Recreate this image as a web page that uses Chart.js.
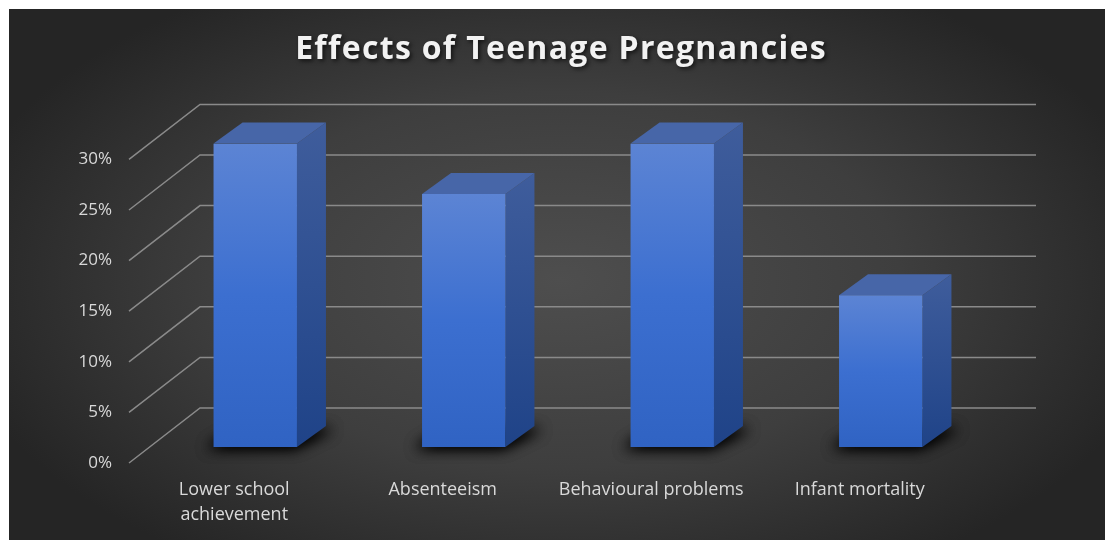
<!DOCTYPE html>
<html>
<head>
<meta charset="utf-8">
<title>Effects of Teenage Pregnancies</title>
<script src="https://cdn.jsdelivr.net/npm/chart.js@4.4.1/dist/chart.umd.min.js"></script>
<style>
  html, body { margin: 0; padding: 0; background: #fff; }
  #wrap { width: 1105px; height: 540px; }
</style>
</head>
<body>
<div id="wrap"><canvas id="effectsChart" width="1105" height="540"></canvas></div>
<script>
const categories = [["Lower school", "achievement"], "Absenteeism", "Behavioural problems", "Infant mortality"];
const percentages = [30, 25, 30, 15];
const yTicks = [0, 5, 10, 15, 20, 25, 30];

// fake 3d: bar depth and floor/wall depth in px
const BAR_DX = 29, BAR_DY = 21;
const WALL_LEFT = 129, WALL_BACK = 200, WALL_RIGHT = 1036;
const BACK_SHIFT = -39, FRONT_SHIFT = 16;
const TITLE_SHIFT = 64;
const OFFSCREEN = 3000;

const backdrop = {
  id: 'backdrop',
  beforeDraw(chart) {
    const { ctx, width, height } = chart;
    ctx.save();
    ctx.fillStyle = '#ffffff';
    ctx.fillRect(0, 0, width, height);
    ctx.beginPath();
    ctx.rect(9, 9, width - 9, height - 9);
    ctx.clip();
    // elliptical radial glow in the middle
    ctx.translate(560, 280);
    ctx.scale(1, 0.55);
    const g = ctx.createRadialGradient(0, 0, 0, 0, 0, 620);
    g.addColorStop(0, '#4e4e4e');
    g.addColorStop(0.55, '#3e3e3e');
    g.addColorStop(1, '#252525');
    ctx.fillStyle = g;
    ctx.fillRect(-600, -600, 1200, 1200);
    ctx.restore();

    // spaced-out, shadowed title
    const tb = chart.titleBlock;
    if (tb && !tb._spaced) {
      const orig = tb.draw.bind(tb);
      tb.draw = function () {
        const c = this.ctx;
        c.save();
        c.translate(TITLE_SHIFT, 0);
        c.letterSpacing = '1.3px';
        c.shadowColor = 'rgba(0,0,0,0.65)';
        c.shadowOffsetX = 2;
        c.shadowOffsetY = 2;
        c.shadowBlur = 4;
        orig();
        c.restore();
      };
      tb._spaced = true;
    }
  }
};

const walls = {
  id: 'walls',
  beforeDatasetsDraw(chart) {
    const { ctx } = chart;
    const y = chart.scales.y;
    ctx.save();
    ctx.strokeStyle = '#8a8a8a';
    ctx.lineWidth = 1.5;
    yTicks.forEach(v => {
      const py = y.getPixelForValue(v);
      ctx.beginPath();
      ctx.moveTo(WALL_LEFT, py + FRONT_SHIFT);
      ctx.lineTo(WALL_BACK, py + BACK_SHIFT);
      ctx.lineTo(WALL_RIGHT, py + BACK_SHIFT);
      ctx.stroke();
    });
    ctx.restore();

    const meta = chart.getDatasetMeta(0);
    meta.data.forEach(el => {
      const { x, y: top, base, width } = el.getProps(['x', 'y', 'base', 'width'], true);
      const x0 = x - width / 2, x1 = x + width / 2;

      // soft floor shadow: shape is drawn off canvas, only its blur lands here
      ctx.save();
      ctx.shadowColor = 'rgba(0,0,0,0.95)';
      ctx.shadowBlur = 14;
      ctx.shadowOffsetX = OFFSCREEN - 5;
      ctx.shadowOffsetY = 1;
      ctx.fillStyle = '#000';
      for (let i = 0; i < 2; i++) {
        ctx.beginPath();
        ctx.moveTo(x0 - 2 - OFFSCREEN, base);
        ctx.lineTo(x1 + 2 - OFFSCREEN, base);
        ctx.lineTo(x1 + BAR_DX + 12 - OFFSCREEN, base - BAR_DY + 2);
        ctx.lineTo(x0 + BAR_DX - OFFSCREEN, base - BAR_DY + 2);
        ctx.closePath();
        ctx.fill();
      }
      ctx.restore();

      // right side
      ctx.save();
      const sg = ctx.createLinearGradient(0, top - BAR_DY, 0, base);
      sg.addColorStop(0, '#3f5d9c');
      sg.addColorStop(1, '#1f4388');
      ctx.fillStyle = sg;
      ctx.beginPath();
      ctx.moveTo(x1, top);
      ctx.lineTo(x1 + BAR_DX, top - BAR_DY);
      ctx.lineTo(x1 + BAR_DX, base - BAR_DY);
      ctx.lineTo(x1, base);
      ctx.closePath();
      ctx.fill();

      // top
      ctx.fillStyle = '#4766a8';
      ctx.beginPath();
      ctx.moveTo(x0, top);
      ctx.lineTo(x0 + BAR_DX, top - BAR_DY);
      ctx.lineTo(x1 + BAR_DX, top - BAR_DY);
      ctx.lineTo(x1, top);
      ctx.closePath();
      ctx.fill();
      ctx.restore();
    });
  }
};

function frontFill(context) {
  const chart = context.chart;
  if (!chart.chartArea) return '#3d6fcf';
  const y = chart.scales.y;
  const top = y.getPixelForValue(percentages[context.dataIndex]);
  const base = y.getPixelForValue(0);
  const g = chart.ctx.createLinearGradient(0, top, 0, base);
  g.addColorStop(0, '#5c84d4');
  g.addColorStop(0.5, '#3c6fd0');
  g.addColorStop(1, '#3063c3');
  return g;
}

new Chart(document.getElementById('effectsChart'), {
  type: 'bar',
  data: {
    labels: categories,
    datasets: [{
      data: percentages,
      backgroundColor: frontFill,
      borderWidth: 0,
      barPercentage: 0.4,
      categoryPercentage: 1
    }]
  },
  options: {
    responsive: false,
    animation: false,
    layout: { padding: { left: 9, right: 120, top: 9, bottom: 0 } },
    plugins: {
      legend: { display: false },
      tooltip: { enabled: false },
      title: {
        display: true,
        text: 'Effects of Teenage Pregnancies',
        color: '#f2f2f2',
        font: { family: 'Open Sans', size: 32, weight: 'bold', lineHeight: 1.2 },
        padding: { top: 22, bottom: 74 }
      }
    },
    scales: {
      x: {
        grid: { display: false, drawTicks: false },
        border: { display: false },
        afterFit(scale) { scale.height = 93; },
        ticks: {
          color: '#d9d9d9',
          font: { family: 'Open Sans', size: 18, lineHeight: 1.4 },
          padding: 30,
          labelOffset: -21,
          maxRotation: 0
        }
      },
      y: {
        min: 0,
        max: 30,
        grid: { display: false, drawTicks: false },
        border: { display: false },
        afterFit(scale) { scale.width = 142; },
        afterBuildTicks(scale) { scale.ticks = yTicks.map(v => ({ value: v })); },
        ticks: {
          color: '#d9d9d9',
          font: { family: 'Open Sans', size: 17 },
          padding: 39,
          labelOffset: FRONT_SHIFT,
          callback: v => v + '%'
        }
      }
    }
  },
  plugins: [backdrop, walls]
});
</script>
</body>
</html>
